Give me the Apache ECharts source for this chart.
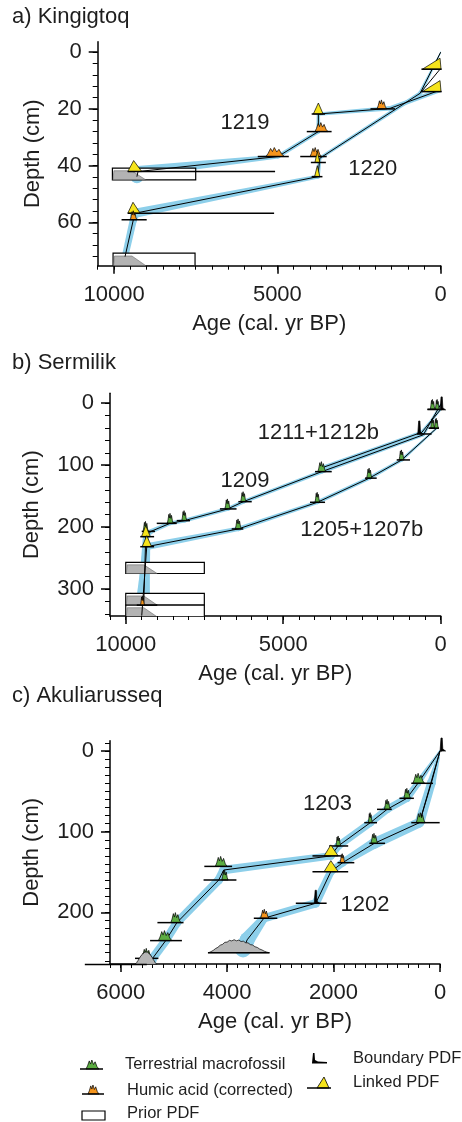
<!DOCTYPE html>
<html>
<head>
<meta charset="utf-8">
<script src="https://cdn.jsdelivr.net/npm/echarts@6/dist/echarts.min.js"></script>
<style>
html, body { margin: 0; padding: 0; background: #fff; }
#main { width: 462px; height: 1122px; }
</style>
</head>
<body>
<div id="main"></div>
<script>
const FONT = '"Liberation Sans", Arial, Helvetica, sans-serif';
const INK = '#1e1e1e';

// ---------- a) Kingigtoq ----------
const aAgeTicks = [0, 5000, 10000];
const aDepthTicks = [0, 20, 40, 60];
const a1219Age = [0, 1550, 3745, 3745, 4980, 9265, 9300];
const a1219Depth = [13.3, 19.8, 21.8, 28, 36.8, 42.1, 43.9];
const a1219Err = [60, 70, 50, 60, 60, 170, 200];
const a1220Age = [0, 630, 3700, 3760, 9357, 9409, 9663];
const a1220Depth = [0, 14.5, 37.4, 43.9, 56.8, 59.1, 72.1];
const a1220Err = [20, 60, 50, 60, 140, 110, 100];
const aTopAge = [20, 630];
const aTopDepth = [6, 14.5];
// glyph rows: peak age, depth, shape old, shape young, range old, range young
const aGlyphs = [
  [20, 6.0, 560, -10, 590, -30],
  [20, 13.9, 560, -10, 590, -30],
  [1800, 20.0, 1950, 1650, 2150, 1400],
  [3745, 21.8, 3900, 3600, 3950, 3540],
  [3650, 28.0, 3850, 3450, 4100, 3340],
  [5050, 36.8, 5350, 4780, 5600, 4650],
  [9400, 42.1, 9580, 9150, 9580, 5070],
  [3846, 36.8, 4000, 3650, 4300, 3490],
  [3778, 38.9, 3850, 3700, 3975, 3515],
  [3778, 43.9, 3860, 3700, 3950, 3620],
  [9420, 56.8, 9580, 9200, 9580, 5100],
  [9409, 59.1, 9500, 9300, 9770, 9000]
];
const aGlyphKinds = ['L', 'L', 'H', 'L', 'H', 'H', 'L', 'H', 'L', 'L', 'L', 'H'];
const aPriors = [[10050, 7500, 40.9, 45.0], [10030, 7520, 70.9, 75.3]];
const aLabels = ['1219', '1220'];
const aLabelAge = [5990, 2078];
const aLabelDepth = [25, 41.3];

// ---------- b) Sermilik ----------
const bAgeTicks = [0, 5000, 10000];
const bDepthTicks = [0, 100, 200, 300];
const b1211Age = [0, 552, 3778, 6267, 6762, 8140, 8594, 9200, 9365, 9430];
const b1211Depth = [2, 51, 110.5, 159, 170.7, 189.6, 194, 207, 215.5, 326];
const b1211Err = [30, 50, 60, 60, 60, 60, 60, 70, 90, 200];
const b1209Age = [0, 600, 3700, 3778];
const b1209Depth = [10, 47, 103, 108];
const b1209Err = [30, 50, 60, 60];
const b1205Age = [130, 1238, 2267, 3915, 6425, 9333, 9492];
const b1205Depth = [40.4, 91.6, 121, 160, 203, 231.7, 343];
const b1205Err = [30, 50, 60, 60, 70, 110, 240];
const bGlyphs = [
  [250, 10, 330, 180, 420, 30],
  [110, 10, 170, 50, 420, 30],
  [-30, 10.8, -25, -35, -25, -35],
  [260, 40.4, 320, 200, 380, 60],
  [140, 40.4, 200, 80, 380, 60],
  [680, 49.7, 700, 650, 760, 290],
  [1238, 91.6, 1320, 1160, 1397, 975],
  [2267, 121, 2350, 2180, 2403, 2032],
  [3778, 110.5, 3900, 3650, 3990, 3460],
  [3915, 160, 3990, 3840, 4149, 3672],
  [6267, 159, 6350, 6180, 6425, 6000],
  [6762, 170.7, 6850, 6680, 7010, 6482],
  [8140, 189.6, 8220, 8060, 8381, 7959],
  [8594, 194, 8680, 8490, 9016, 8381],
  [9365, 207, 9450, 9280, 9492, 9070],
  [9365, 215.5, 9500, 9220, 9540, 9100],
  [9333, 231.7, 9480, 9180, 9540, 9100],
  [6425, 203, 6520, 6330, 6635, 6268],
  [9472, 326, 9530, 9420, 9650, 9000]
];
const bGlyphKinds = ['T', 'T', 'B', 'T', 'T', 'B', 'T', 'T', 'T', 'T', 'T', 'T', 'T', 'T', 'T', 'L', 'L', 'T', 'H'];
const bPriors = [[10000, 7505, 257, 275], [10000, 7505, 307, 326], [10000, 7505, 326, 345]];
const bLabels = ['1211+1212b', '1209', '1205+1207b'];
const bLabelAge = [3886, 6213, 2508];
const bLabelDepth = [48.5, 125, 204.7];

// ---------- c) Akuliarusseq ----------
const cAgeTicks = [0, 2000, 4000, 6000];
const cDepthTicks = [0, 100, 200];
const c1203Age = [0, 415, 623, 994, 1309, 1913, 2051, 4064, 4158, 4943, 5153, 5400, 5415];
const c1203Depth = [0, 40, 58.6, 72.3, 88.8, 117.7, 130, 147.5, 160, 212.7, 235, 257, 263];
const c1203Err = [20, 60, 70, 70, 70, 70, 70, 80, 80, 80, 80, 80, 80];
const c1202Age = [0, 164, 385, 1234, 1830, 2051, 2334, 3309, 3623, 3700];
const c1202Depth = [0, 40, 88.8, 114.4, 138.4, 149.5, 188.7, 207.3, 234, 246];
const c1202Err = [20, 80, 90, 100, 70, 70, 80, 80, 140, 150];
const cExtraAge = [0, 385];
const cExtraDepth = [0, 88.8];
const cGlyphs = [
  [-30, 0, -25, -35, -25, -35],
  [415, 40, 510, 291, 540, 132],
  [623, 58.6, 679, 555, 762, 491],
  [994, 72.3, 1045, 932, 1183, 906],
  [1309, 88.8, 1347, 1277, 1423, 1183],
  [1913, 117.7, 1957, 1862, 2083, 1725],
  [2051, 130, 2177, 1913, 2396, 1862],
  [4126, 143, 4221, 4000, 4428, 3906],
  [4050, 160, 4100, 3980, 4442, 3825],
  [4957, 212.7, 5057, 4868, 5309, 4819],
  [5226, 235, 5291, 5038, 5447, 4849],
  [5541, 257, 5604, 5415, 5730, 5291],
  [5520, 264.5, 5730, 5321, 6673, 5509],
  [385, 88.8, 447, 277, 540, 6],
  [1234, 114.4, 1298, 1170, 1328, 1032],
  [1830, 138.4, 1876, 1787, 1925, 1610],
  [2051, 149.5, 2177, 1913, 2396, 1725],
  [2334, 188.7, 2350, 2320, 2709, 2130],
  [3309, 207.3, 3372, 3215, 3498, 3057],
  [3870, 250, 4347, 3215, 4360, 3200]
];
const cGlyphKinds = ['B', 'T', 'T', 'T', 'T', 'T', 'L', 'T', 'T', 'T', 'T', 'T', 'G', 'T', 'T', 'H', 'L', 'B', 'H', 'G'];
const cLabels = ['1203', '1202'];
const cLabelAge = [2113, 1411];
const cLabelDepth = [65.7, 190.8];

const FILL = { T: '#5cad42', H: '#f5951d', L: '#f6e41c', B: '#000', G: '#b5b5b5' };
const GLYPH_H = { T: 10, H: 9, L: 11, B: 13, G: 13 };
const BAND = '#8dcfea';

function jag(x0, x1, y, h) {
  const w = Math.max(x1 - x0, 4);
  const f = [[0, 0], [0.12, 0.35], [0.25, 0.9], [0.35, 0.55], [0.45, 1], [0.58, 0.5], [0.7, 0.8], [0.85, 0.25], [1, 0]];
  return f.map(p => [x0 + p[0] * w, y - p[1] * h]);
}
function hump(x0, xp, x1, y, h) {
  const pts = [[x0, y]];
  const n = 26;
  for (let i = 1; i < n; i++) {
    const x = x0 + (i / n) * (x1 - x0);
    const u = x < xp ? (x - x0) / (xp - x0) : (x1 - x) / (x1 - xp);
    const k = Math.pow(Math.sin(u * Math.PI / 2), 1.3) * (i % 2 ? 1 : 0.92);
    pts.push([x, y - k * h]);
  }
  pts.push([x1, y]);
  return pts;
}

function bandSeries(g, ages, depths, errs) {
  const segs = [];
  for (let i = 0; i < ages.length - 1; i++) {
    segs.push([ages[i], depths[i], ages[i + 1], depths[i + 1], errs[i], errs[i + 1]]);
  }
  return {
    type: 'custom', xAxisIndex: 2 * g, yAxisIndex: 2 * g, z: 1, clip: true, silent: true,
    data: segs,
    renderItem(params, api) {
      const a1 = api.value(0), d1 = api.value(1), a2 = api.value(2), d2 = api.value(3);
      const p1 = api.coord([a1, d1]), p2 = api.coord([a2, d2]);
      const w1 = Math.abs(api.coord([a1 + api.value(4), d1])[0] - p1[0]);
      const w2 = Math.abs(api.coord([a2 + api.value(5), d2])[0] - p2[0]);
      const dx = p2[0] - p1[0], dy = p2[1] - p1[1];
      const len = Math.hypot(dx, dy) || 1;
      const nx = -dy / len, ny = dx / len;
      const st = { fill: BAND };
      return {
        type: 'group',
        children: [
          { type: 'polygon', shape: { points: [
            [p1[0] + nx * w1, p1[1] + ny * w1], [p2[0] + nx * w2, p2[1] + ny * w2],
            [p2[0] - nx * w2, p2[1] - ny * w2], [p1[0] - nx * w1, p1[1] - ny * w1]] }, style: st },
          { type: 'circle', shape: { cx: p1[0], cy: p1[1], r: w1 }, style: st },
          { type: 'circle', shape: { cx: p2[0], cy: p2[1], r: w2 }, style: st }
        ]
      };
    }
  };
}

function lineSeries(g, ages, depths) {
  return {
    type: 'line', xAxisIndex: 2 * g, yAxisIndex: 2 * g, z: 3, symbol: 'none', silent: true,
    data: ages.map((a, i) => [a, depths[i]]),
    lineStyle: { color: '#000', width: 1 }
  };
}

function priorSeries(g, boxes) {
  return {
    type: 'custom', xAxisIndex: 2 * g, yAxisIndex: 2 * g, z: 2, clip: true, silent: true,
    data: boxes,
    renderItem(params, api) {
      const tl = api.coord([api.value(0), api.value(2)]);
      const br = api.coord([api.value(1), api.value(3)]);
      const w = br[0] - tl[0], h = br[1] - tl[1];
      return {
        type: 'group',
        children: [
          { type: 'rect', shape: { x: tl[0], y: tl[1], width: w, height: h },
            style: { fill: '#fff', stroke: '#000', lineWidth: 1.2 } },
          { type: 'polygon', shape: { points: [[tl[0] + 0.5, br[1]], [tl[0] + 1.5, tl[1] + h * 0.22],
            [tl[0] + 0.23 * w, tl[1] + h * 0.22], [tl[0] + 0.4 * w, br[1]]] },
            style: { fill: '#b3b3b3', stroke: '#555', lineWidth: 0.5 } }
        ]
      };
    }
  };
}

function glyphSeries(g, rows, kinds) {
  return {
    type: 'custom', xAxisIndex: 2 * g, yAxisIndex: 2 * g, z: 4, clip: false, silent: true,
    data: rows,
    renderItem(params, api) {
      const k = kinds[params.dataIndex];
      const d = api.value(1);
      const p = api.coord([api.value(0), d]);
      const xp = p[0], y = p[1];
      const s0 = api.coord([api.value(2), d])[0], s1 = api.coord([api.value(3), d])[0];
      const l0 = api.coord([api.value(4), d])[0], l1 = api.coord([api.value(5), d])[0];
      const h = GLYPH_H[k];
      let pts;
      if (k === 'L') pts = [[s0, y], [xp, y - h], [s1, y]];
      else if (k === 'B') pts = [[xp - 1.5, y], [xp - 0.6, y - h], [xp + 0.6, y - h], [xp + 1.2, y - 2], [xp + 4, y]];
      else if (k === 'G') pts = hump(s0, xp, s1, y, h);
      else pts = jag(s0, s1, y, h);
      return {
        type: 'group',
        children: [
          { type: 'polygon', shape: { points: pts }, style: { fill: FILL[k], stroke: '#000', lineWidth: 0.7 } },
          { type: 'line', shape: { x1: l0, y1: y, x2: l1, y2: y }, style: { stroke: '#000', lineWidth: 1.5 } }
        ]
      };
    }
  };
}

function labelSeries(g, names, ages, depths) {
  return {
    type: 'custom', xAxisIndex: 2 * g, yAxisIndex: 2 * g, z: 5, clip: false, silent: true,
    data: ages.map((a, i) => [a, depths[i]]),
    renderItem(params, api) {
      const p = api.coord([api.value(0), api.value(1)]);
      return { type: 'text', x: p[0], y: p[1],
        style: { text: names[params.dataIndex], fontSize: 22, fontFamily: FONT, fill: INK,
          align: 'center', verticalAlign: 'middle' } };
    }
  };
}

function steps(min, max, step) {
  const out = [];
  for (let v = Math.ceil(min / step) * step; v <= max + 1e-6; v += step) out.push(v);
  return out;
}

const panels = [
  { grid: { left: 97.7, top: 41.7, width: 343, height: 224 },
    xMax: 10500, xTicks: aAgeTicks, xMinor: 500,
    yMin: -3.7, yMax: 75.3, yTicks: aDepthTicks, yMinor: 4, yNameGap: 54 },
  { grid: { left: 110, top: 393.3, width: 330.7, height: 222.7 },
    xMax: 10500, xTicks: bAgeTicks, xMinor: 500,
    yMin: -16, yMax: 343.6, yTicks: bDepthTicks, yMinor: 20, yNameGap: 67 },
  { grid: { left: 110, top: 740.7, width: 330, height: 223.3 },
    xMax: 6200, xTicks: cAgeTicks, xMinor: 200,
    yMin: -12.8, yMax: 264, yTicks: cDepthTicks, yMinor: 10, yNameGap: 67 }
];

const plain = v => String(Math.round(v));
const grids = [], xAxes = [], yAxes = [];
panels.forEach((p, g) => {
  grids.push(Object.assign({ outerBoundsMode: 'none', containLabel: false }, p.grid));
  const txt = { fontSize: 22, fontFamily: FONT, color: INK };
  const hidden = { show: true, onZero: false, lineStyle: { color: 'rgba(0,0,0,0)', width: 1 } };
  xAxes.push({
    type: 'value', gridIndex: g, inverse: true, min: 0, max: p.xMax, position: 'bottom',
    name: 'Age (cal. yr BP)', nameLocation: 'middle', nameGap: 47, nameMoveOverlap: false,
    nameTextStyle: txt,
    axisLine: { show: true, onZero: false, lineStyle: { color: '#000', width: 1.5 } },
    axisTick: { show: true, customValues: p.xTicks, length: 8, lineStyle: { color: '#000', width: 1.5 } },
    axisLabel: Object.assign({ customValues: p.xTicks, margin: 18, formatter: plain }, txt),
    splitLine: { show: false }
  });
  xAxes.push({
    type: 'value', gridIndex: g, inverse: true, min: 0, max: p.xMax, position: 'bottom',
    axisLine: hidden,
    axisTick: { show: true, customValues: steps(0, p.xMax, p.xMinor), length: 4, lineStyle: { color: '#000', width: 1 } },
    axisLabel: { show: false }, splitLine: { show: false }
  });
  yAxes.push({
    type: 'value', gridIndex: g, inverse: true, min: p.yMin, max: p.yMax, position: 'left',
    name: 'Depth (cm)', nameLocation: 'middle', nameGap: p.yNameGap, nameMoveOverlap: false,
    nameTextStyle: txt,
    axisLine: { show: true, onZero: false, lineStyle: { color: '#000', width: 1.5 } },
    axisTick: { show: true, customValues: p.yTicks, length: 9, lineStyle: { color: '#000', width: 1.5 } },
    axisLabel: Object.assign({ customValues: p.yTicks, margin: 16, formatter: plain }, txt),
    splitLine: { show: false }
  });
  yAxes.push({
    type: 'value', gridIndex: g, inverse: true, min: p.yMin, max: p.yMax, position: 'left',
    axisLine: hidden,
    axisTick: { show: true, customValues: steps(p.yMin, p.yMax, p.yMinor), length: 5, lineStyle: { color: '#000', width: 1 } },
    axisLabel: { show: false }, splitLine: { show: false }
  });
});

const series = [
  bandSeries(0, a1219Age, a1219Depth, a1219Err),
  bandSeries(0, a1220Age, a1220Depth, a1220Err),
  priorSeries(0, aPriors),
  lineSeries(0, a1219Age, a1219Depth),
  lineSeries(0, a1220Age, a1220Depth),
  lineSeries(0, aTopAge, aTopDepth),
  glyphSeries(0, aGlyphs, aGlyphKinds),
  labelSeries(0, aLabels, aLabelAge, aLabelDepth),

  bandSeries(1, b1211Age, b1211Depth, b1211Err),
  bandSeries(1, b1209Age, b1209Depth, b1209Err),
  bandSeries(1, b1205Age, b1205Depth, b1205Err),
  priorSeries(1, bPriors),
  lineSeries(1, b1211Age, b1211Depth),
  lineSeries(1, b1209Age, b1209Depth),
  lineSeries(1, b1205Age, b1205Depth),
  glyphSeries(1, bGlyphs, bGlyphKinds),
  labelSeries(1, bLabels, bLabelAge, bLabelDepth),

  bandSeries(2, c1203Age, c1203Depth, c1203Err),
  bandSeries(2, c1202Age, c1202Depth, c1202Err),
  lineSeries(2, c1203Age, c1203Depth),
  lineSeries(2, c1202Age, c1202Depth),
  lineSeries(2, cExtraAge, cExtraDepth),
  glyphSeries(2, cGlyphs, cGlyphKinds),
  labelSeries(2, cLabels, cLabelAge, cLabelDepth)
];

function text(x, y, s, size) {
  return { type: 'text', x: x, y: y, z: 10,
    style: { text: s, fontSize: size, fontFamily: FONT, fill: INK, verticalAlign: 'middle' } };
}
const graphics = [
  text(12, 16.5, 'a) Kingigtoq', 22),
  text(12, 363, 'b) Sermilik', 22),
  text(12, 696, 'c) Akuliarusseq', 22),
  // legend
  { type: 'polygon', shape: { points: jag(86, 99, 1069, 9) }, style: { fill: FILL.T, stroke: '#000', lineWidth: 0.7 } },
  { type: 'line', shape: { x1: 80, y1: 1069, x2: 103, y2: 1069 }, style: { stroke: '#000', lineWidth: 1.5 } },
  text(125, 1064, 'Terrestrial macrofossil', 16.5),
  { type: 'polygon', shape: { points: jag(88, 99, 1094, 9) }, style: { fill: FILL.H, stroke: '#000', lineWidth: 0.7 } },
  { type: 'line', shape: { x1: 82, y1: 1094, x2: 104, y2: 1094 }, style: { stroke: '#000', lineWidth: 1.5 } },
  text(127, 1090, 'Humic acid (corrected)', 16.5),
  { type: 'rect', shape: { x: 82, y: 1111, width: 23, height: 9 }, style: { fill: '#fff', stroke: '#000', lineWidth: 1.2 } },
  text(127, 1113, 'Prior PDF', 16.5),
  { type: 'polygon', shape: { points: [[312, 1063], [313, 1053], [314.5, 1053], [315, 1060], [318, 1061.5], [327, 1062], [327, 1063.5], [312, 1063.5]] },
    style: { fill: '#000' } },
  text(353, 1058, 'Boundary PDF', 16.5),
  { type: 'polygon', shape: { points: [[317, 1088], [324, 1077], [329, 1088]] }, style: { fill: FILL.L, stroke: '#000', lineWidth: 0.8 } },
  { type: 'line', shape: { x1: 307, y1: 1088, x2: 331, y2: 1088 }, style: { stroke: '#000', lineWidth: 1.5 } },
  text(353, 1082, 'Linked PDF', 16.5)
];

const chart = echarts.init(document.getElementById('main'), null, { renderer: 'canvas' });
chart.setOption({
  animation: false,
  backgroundColor: '#fff',
  grid: grids,
  xAxis: xAxes,
  yAxis: yAxes,
  series: series,
  graphic: graphics
});
</script>
</body>
</html>
